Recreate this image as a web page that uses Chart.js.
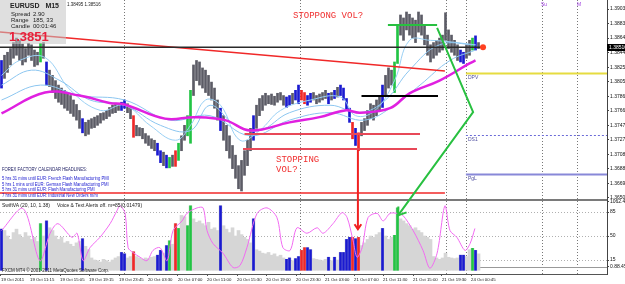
<!DOCTYPE html>
<html>
<head>
<meta charset="utf-8">
<script src="https://cdn.jsdelivr.net/npm/chart.js@4.4.0/dist/chart.umd.min.js"></script>
<style>
  html, body { margin: 0; padding: 0; background: #fff; }
  #wrap { position: relative; width: 625px; height: 284px; overflow: hidden; font-family: "Liberation Sans", Arial, sans-serif; }
  #wrap canvas { position: absolute; left: 0; top: 0; }
  .t { position: absolute; white-space: nowrap; line-height: 1; color: #222; }
  .info { position: absolute; left: 0; top: 0; width: 66px; height: 44px; background: rgba(196,196,196,0.55); }
  .big { font-size: 13px; font-weight: bold; color: #e8203c; }
  .mono { font-family: "Liberation Mono", "DejaVu Sans Mono", monospace; font-size: 9px; color: #f03030; }
  .ff { font-size: 5.5px; transform: scaleX(0.76); transform-origin: 0 0; color: #2020d0; }
  .tiny { font-size: 5px; }
  .piv { font-size: 5px; color: #5050a0; }
  .day { font-size: 5px; color: #a040e0; }
</style>
</head>
<body>
<div id="wrap">
  <canvas id="mt" width="625" height="284"></canvas>

  <div class="info"></div>
  <div class="t" style="left:10px;top:2px;font-size:7px;font-weight:bold;">EURUSD&nbsp;&nbsp;&nbsp;M15</div>
  <div class="t" style="left:11px;top:11px;font-size:6px;">Spread</div>
  <div class="t" style="left:33px;top:11px;font-size:6px;">2.90</div>
  <div class="t" style="left:11px;top:17px;font-size:6px;">Range</div>
  <div class="t" style="left:33px;top:17px;font-size:6px;">185, 33</div>
  <div class="t" style="left:11px;top:23px;font-size:6px;">Candle</div>
  <div class="t" style="left:33px;top:23px;font-size:6px;">00:01:46</div>
  <div class="t big" style="left:9px;top:30px;">1.3851</div>
  <div class="t" style="left:67px;top:3px;font-size:4.5px;">1.38495 1.38516</div>

  <div class="t mono" style="left:293px;top:12px;">STOPPONG VOL?</div>
  <div class="t mono" style="left:276px;top:156px;">STOPPING</div>
  <div class="t mono" style="left:276px;top:166px;">VOL?</div>

  <div class="t ff" style="left:2px;top:167px;color:#1a1a60;">FOREX FACTORY CALENDAR HEADLINES:</div>
  <div class="t ff" style="left:2px;top:176px;">5 hrs 31 mins until EUR: French Flash Manufacturing PMI</div>
  <div class="t ff" style="left:2px;top:182px;">5 hrs 1 mins until EUR: German Flash Manufacturing PMI</div>
  <div class="t ff" style="left:2px;top:187px;">5 hrs 31 mins until EUR: Flash Manufacturing PMI</div>
  <div class="t ff" style="left:2px;top:193px;">7 hrs 31 mins until EUR: Industrial New Orders m/m</div>

  <div class="t tiny" style="left:2px;top:203px;">SwiftVA (20, 10, 1.38)</div>
  <div class="t tiny" style="left:57px;top:203px;">Voice &amp; Text Alerts off.</div>
  <div class="t tiny" style="left:108px;top:203px;">m=85(0.01479)</div>
  <div class="t" style="left:2px;top:269px;font-size:4.5px;">FXCM MT4 &copy; 2001-2011 MetaQuotes Software Corp.</div>

  <div class="t day" style="left:541px;top:2px;">Su</div>
  <div class="t day" style="left:577px;top:2px;">M</div>
  <div class="t piv" style="left:468px;top:75px;">DPV</div>
  <div class="t piv" style="left:468px;top:137px;">DS1</div>
  <div class="t piv" style="left:468px;top:176px;">PgL</div>
</div>

<script>
// ---- values (bar index = one M15 bar) ----
const barColors =
  'bggggggggg' + 'gggGgbgggg' + 'gggggggbgg' + 'gggggggggg' +
  'bbggrggggg' + 'ggbbgbGgrG' + 'ggGGgggggg' + 'gggbgggggg' +
  'ggggbggggg' + 'gggggbbgbb' + 'rrbbgggggb' + 'gbgbbbbrbr' +
  'gggggggbgg' + 'gGGggggggg' + 'gggggggggg' + 'gggbbggGbg';

const highs = [
  1.3834,1.3841,1.3845,1.3850,1.3858,1.3864,1.3861,1.3856,1.3850,1.3857,
  1.3855,1.3848,1.3845,1.3857,1.3858,1.3832,1.3821,1.3814,1.3807,1.3801,
  1.3797,1.3794,1.3791,1.3787,1.3781,1.3775,1.3767,1.3756,1.3751,1.3754,
  1.3756,1.3758,1.3760,1.3763,1.3764,1.3767,1.3771,1.3774,1.3775,1.3775,
  1.3778,1.3781,1.3776,1.3770,1.3760,1.3747,1.3744,1.3743,1.3736,1.3733,
  1.3729,1.3727,1.3723,1.3713,1.3711,1.3707,1.3704,1.3707,1.3713,1.3723,
  1.3733,1.3747,1.3760,1.3794,1.3828,1.3834,1.3832,1.3824,1.3821,1.3814,
  1.3805,1.3797,1.3781,1.3770,1.3760,1.3747,1.3733,1.3720,1.3707,1.3693,
  1.3700,1.3713,1.3727,1.3743,1.3760,1.3774,1.3783,1.3787,1.3790,1.3787,
  1.3789,1.3786,1.3790,1.3791,1.3787,1.3785,1.3787,1.3790,1.3794,1.3801,
  1.3794,1.3791,1.3787,1.3790,1.3791,1.3787,1.3789,1.3791,1.3794,1.3790,
  1.3791,1.3794,1.3798,1.3801,1.3797,1.3783,1.3770,1.3751,1.3743,1.3737,
  1.3751,1.3756,1.3767,1.3776,1.3774,1.3781,1.3787,1.3801,1.3814,1.3824,
  1.3821,1.3832,1.3881,1.3895,1.3891,1.3899,1.3896,1.3891,1.3888,1.3899,
  1.3895,1.3881,1.3868,1.3855,1.3858,1.3861,1.3864,1.3868,1.3898,1.3875,
  1.3868,1.3861,1.3855,1.3848,1.3845,1.3855,1.3861,1.3864,1.3867,1.3858
];
const lows = [
  1.3797,1.3810,1.3818,1.3828,1.3837,1.3841,1.3834,1.3828,1.3832,1.3841,
  1.3834,1.3826,1.3828,1.3832,1.3837,1.3801,1.3799,1.3791,1.3783,1.3778,
  1.3775,1.3770,1.3767,1.3763,1.3759,1.3754,1.3743,1.3737,1.3733,1.3735,
  1.3743,1.3744,1.3747,1.3750,1.3754,1.3756,1.3759,1.3763,1.3764,1.3767,
  1.3767,1.3770,1.3764,1.3756,1.3731,1.3733,1.3733,1.3729,1.3723,1.3720,
  1.3716,1.3713,1.3707,1.3697,1.3693,1.3690,1.3690,1.3692,1.3692,1.3700,
  1.3713,1.3727,1.3733,1.3723,1.3787,1.3807,1.3801,1.3797,1.3791,1.3787,
  1.3781,1.3770,1.3754,1.3740,1.3727,1.3713,1.3703,1.3689,1.3676,1.3662,
  1.3659,1.3680,1.3693,1.3713,1.3727,1.3743,1.3760,1.3767,1.3774,1.3776,
  1.3775,1.3774,1.3778,1.3781,1.3774,1.3771,1.3774,1.3776,1.3781,1.3776,
  1.3781,1.3776,1.3774,1.3778,1.3781,1.3776,1.3778,1.3781,1.3783,1.3776,
  1.3781,1.3783,1.3785,1.3787,1.3781,1.3767,1.3751,1.3729,1.3720,1.3713,
  1.3733,1.3740,1.3747,1.3756,1.3754,1.3760,1.3767,1.3771,1.3787,1.3797,
  1.3801,1.3791,1.3830,1.3868,1.3861,1.3875,1.3868,1.3864,1.3858,1.3872,
  1.3868,1.3855,1.3841,1.3832,1.3837,1.3841,1.3845,1.3848,1.3861,1.3850,
  1.3845,1.3841,1.3834,1.3832,1.3830,1.3837,1.3841,1.3848,1.3848,1.3850
];
const volumes = [
  60,58,50,45,55,60,52,48,55,50,
  45,48,42,68,50,72,62,58,50,45,
  48,40,42,38,35,40,42,46,35,30,
  18,15,14,12,16,14,12,15,18,20,
  26,24,18,20,27,20,18,16,18,17,
  19,20,22,29,25,36,43,38,68,61,
  80,78,65,94,75,70,72,68,65,70,
  60,62,58,94,65,60,55,62,50,58,
  52,48,45,40,75,30,28,25,24,26,
  22,24,20,22,18,16,18,14,17,20,
  29,33,33,30,17,16,15,14,16,19,
  14,19,15,26,26,45,48,48,46,48,
  36,40,45,50,48,52,55,61,50,45,
  48,51,91,75,72,68,65,60,62,58,
  55,50,48,45,20,18,16,18,25,19,
  18,17,18,22,22,20,30,32,29,24
];

// oscillator in the lower pane (bar position, value)
const oscX = [0,7.2,12.8,16.2,18.8,23.5,25.2,27.2,29.5,32.8,36.2,38.5,39.5,41.2,42.2,43.8,46.2,48.5,50.5,52.8,
  55.2,57.2,60.2,61.8,65.2,67.2,68.5,70.5,73.8,77.2,79.5,81.8,85.2,88.5,91.8,93.8,96.2,98.5,101.8,105.2,
  107.2,110.5,113.5,115.2,117.2,118.5,120.2,122.2,125.2,127.2,129.5,131.8,133.8,137.2,140.5,142.8,145.2,147.8,149.5,151.8,
  154.5,156.2,157.8];
const oscY = [58,90,14,54,68,48,54,14,33,48,68,87,94,83,33,26,19,14,29,33,
  14,58,72,83,91,91,58,39,25,4,7,33,83,91,77,33,29,62,54,62,
  54,68,84,77,43,19,33,77,83,72,83,83,80,58,29,3,25,94,58,48,
  29,39,61];

// moving averages
const maSlowX = [0,14.5,26,36,41,54.5,64.5,74.5,83,96,106,114.5,119.5,129.5,136,146,156,158];
const maSlowY = [1.3763,1.3791,1.3787,1.3777,1.3775,1.3756,1.3758,1.3754,1.3740,1.3751,1.3758,1.3767,1.3764,1.3770,1.3790,1.3807,1.3830,1.3834];
const maFastX = [0,6,14.5,23,33,41,49.5,58,63,68,73,79.5,86,93,103,113,118,124.5,131,136,143,149.5,158];
const maFastY = [1.3814,1.3834,1.3838,1.3794,1.3767,1.3774,1.3747,1.3727,1.3747,1.3781,1.3774,1.3727,1.3740,1.3767,1.3781,1.3785,1.3760,1.3767,1.3807,1.3861,1.3861,1.3859,1.3855];
const maMidX = [0,10,19.5,29.5,41,53,63,69.5,78,86,96,109.5,119.5,128,136,146,158];
const maMidY = [1.3801,1.3821,1.3807,1.3781,1.3774,1.3747,1.3740,1.3774,1.3747,1.3740,1.3764,1.3774,1.3764,1.3781,1.3821,1.3855,1.3855];
const maBandX = [0,13,26,41,56,69.5,83,96,109.5,121,131,139.5,149.5,158];
const maBandY = [1.3781,1.3801,1.3787,1.3781,1.3754,1.3760,1.3733,1.3754,1.3764,1.3754,1.3774,1.3801,1.3834,1.3848];

// axes
const timeTickPos = [-0.17,9.5,19.5,29.2,39.2,48.8,58.8,68.5,78.5,88.2,98.2,107.8,117.5,127.2,137.2,146.8,156.5];
const timeLabels = ['19 Oct 2011','19 Oct 11:15','19 Oct 15:05','19 Oct 19:15','19 Oct 23:45','20 Oct 03:30',
  '20 Oct 07:00','20 Oct 11:00','20 Oct 15:30','20 Oct 19:00','20 Oct 23:30','21 Oct 03:00','21 Oct 07:00',
  '21 Oct 11:30','21 Oct 15:00','21 Oct 19:30','24 Oct 00:45'];
const priceTicks = [1.39030,1.38835,1.38640,1.38445,1.38250,1.38055,1.37860,1.37665,1.37470,1.37275,1.37080,1.36885,1.36690,1.36500];
const indTicks = [100, 85, 50, 15, 6];
const indTickLabels = ['1062.46', '85', '50', '15', '0.88.45'];
const indLevels = [85, 50, 15];
const sepBars = [40.8, 99.5, 148.2, 154.8, 180.2, 191.8];

// drawn objects (bar, price) ; lower-pane points use indicator units
const currentBar = 160.5;
const currentPrice = 1.38516;
const trendRed = [[-0.5, 1.38722], [147.8, 1.38199]];
const floorRed = [[-0.5, 1.36563], [147.8, 1.36563]];
const stopLines = [[[81, 1.37354], [139.5, 1.37354]], [[80.5, 1.37153], [138.5, 1.37153]]];
const blackLevel = [[120, 1.37864], [145.5, 1.37864]];
const greenTop = [[128.8, 1.38816], [145.2, 1.38816]];
const greenArrow = { a: [145.2, 1.38776], b: [157.2, 1.37649], tip: [132.2, 80] };
const redArrow = { from: [118.8, 1.37140], tip: [118.8, 60] };
const pivotStart = 154.8;
const pivotLevels = [
  { price: 1.38172, color: '#e6dc40', width: 2, dash: [] },
  { price: 1.37341, color: '#6a6ad8', width: 1, dash: [2, 2] },
  { price: 1.36818, color: '#8888d8', width: 2, dash: [] }
];

const barColorMap = { g: '#5c5c66', b: '#1a1ad0', G: '#22c444', r: '#f02828' };

// ---- helpers ----
function seg(ctx, x1, y1, x2, y2, color, w, dash) {
  ctx.beginPath();
  ctx.setLineDash(dash || []);
  ctx.strokeStyle = color;
  ctx.lineWidth = w;
  ctx.moveTo(x1, y1);
  ctx.lineTo(x2, y2);
  ctx.stroke();
}

function arrowHead(ctx, fx, fy, tx, ty, size, color, w) {
  const ang = Math.atan2(ty - fy, tx - fx);
  ctx.setLineDash([]);
  ctx.strokeStyle = color;
  ctx.lineWidth = w;
  ctx.beginPath();
  ctx.moveTo(tx - size * Math.cos(ang - 0.6), ty - size * Math.sin(ang - 0.6));
  ctx.lineTo(tx, ty);
  ctx.lineTo(tx - size * Math.cos(ang + 0.6), ty - size * Math.sin(ang + 0.6));
  ctx.stroke();
}

const mtOverlay = {
  id: 'mtOverlay',
  beforeDatasetsDraw(chart) {
    const { ctx, chartArea: a } = chart;
    const { x, y, y2 } = chart.scales;
    ctx.save();
    ctx.beginPath();
    ctx.rect(a.left, a.top, a.width, a.height);
    ctx.clip();

    // period separators
    sepBars.forEach(b => {
      const px = Math.round(x.getPixelForValue(b)) + 0.5;
      seg(ctx, px, a.top, px, a.bottom, '#777', 1, [1, 2]);
    });
    // indicator levels
    indLevels.forEach(v => {
      const py = Math.round(y2.getPixelForValue(v)) + 0.5;
      seg(ctx, a.left, py, a.right, py, '#b0b0b0', 1, [1, 2]);
    });
    // pivot lines
    const pxs = x.getPixelForValue(pivotStart);
    pivotLevels.forEach(l => {
      const py = Math.round(y.getPixelForValue(l.price)) + 0.5;
      seg(ctx, pxs, py, a.right, py, l.color, l.width, l.dash);
    });
    // pane separator and copyright strip
    seg(ctx, a.left, y.bottom, a.right, y.bottom, '#7a7a7a', 2);
    seg(ctx, a.left, y2.bottom - 6.5, a.right, y2.bottom - 6.5, '#999', 1);
    ctx.restore();
  },
  afterDatasetsDraw(chart) {
    const { ctx, chartArea: a } = chart;
    const { x, y, y2 } = chart.scales;
    const P = p => [x.getPixelForValue(p[0]), y.getPixelForValue(p[1])];
    const Q = p => [x.getPixelForValue(p[0]), y2.getPixelForValue(p[1])];
    ctx.save();
    ctx.beginPath();
    ctx.rect(a.left, a.top, a.width, a.height);
    ctx.clip();

    let s, e;
    s = P(trendRed[0]); e = P(trendRed[1]);
    seg(ctx, s[0], s[1], e[0], e[1], '#f02828', 1.5);
    s = P(floorRed[0]); e = P(floorRed[1]);
    seg(ctx, s[0], s[1], e[0], e[1], '#f02828', 1.5);

    const cy = y.getPixelForValue(currentPrice);
    seg(ctx, a.left, cy, x.getPixelForValue(currentBar), cy, '#2a2a2a', 1.5);

    stopLines.forEach(l => {
      s = P(l[0]); e = P(l[1]);
      seg(ctx, s[0], s[1], e[0], e[1], '#e84858', 2);
    });
    s = P(blackLevel[0]); e = P(blackLevel[1]);
    seg(ctx, s[0], s[1], e[0], e[1], '#000', 2);
    s = P(greenTop[0]); e = P(greenTop[1]);
    seg(ctx, s[0], s[1], e[0], e[1], '#28c040', 2);

    // green arrow crossing into the lower pane
    const ga = P(greenArrow.a), gb = P(greenArrow.b), gt = Q(greenArrow.tip);
    ctx.setLineDash([]);
    ctx.strokeStyle = '#28c040';
    ctx.lineWidth = 2;
    ctx.beginPath();
    ctx.moveTo(ga[0], ga[1]);
    ctx.lineTo(gb[0], gb[1]);
    ctx.lineTo(gt[0], gt[1]);
    ctx.stroke();
    arrowHead(ctx, gb[0], gb[1], gt[0], gt[1], 9, '#28c040', 2);

    // red arrow
    const rf = P(redArrow.from), rt = Q(redArrow.tip);
    seg(ctx, rf[0], rf[1], rt[0], rt[1], '#f02020', 2);
    arrowHead(ctx, rf[0], rf[1], rt[0], rt[1], 6, '#f02020', 2);

    // current price dot
    ctx.fillStyle = '#ff4020';
    ctx.beginPath();
    ctx.arc(x.getPixelForValue(currentBar), cy, 3, 0, Math.PI * 2);
    ctx.fill();
    ctx.restore();

    // price box on the axis
    ctx.save();
    ctx.fillStyle = '#000';
    ctx.fillRect(a.right, Math.round(cy) - 3, 625 - a.right, 7);
    ctx.fillStyle = '#fff';
    ctx.font = '5px "Liberation Sans", Arial';
    ctx.textBaseline = 'middle';
    ctx.fillText(currentPrice.toFixed(5), a.right + 2, Math.round(cy) + 0.5);
    ctx.restore();
  }
};

// ---- datasets ----
const priceBars = highs.map((h, i) => ({ x: i, y: [lows[i], h] }));
const volAll = volumes.map((v, i) => ({ x: i, y: v }));
const volColored = volumes.map((v, i) => ({ x: i, y: v })).filter((d, i) => barColors[i] !== 'g');
const pts = (xs, ys) => xs.map((v, k) => ({ x: v, y: ys[k] }));

const axisFont = { size: 5, family: '"Liberation Sans", Arial, sans-serif' };
const timeFont = { size: 4.3, family: '"Liberation Sans", Arial, sans-serif' };

new Chart(document.getElementById('mt').getContext('2d'), {
  type: 'bar',
  data: {
    datasets: [
      {
        type: 'bar', label: 'volume', data: volAll, yAxisID: 'y2',
        backgroundColor: '#d6d6d6', barThickness: 3, grouped: false, order: 10
      },
      {
        type: 'bar', label: 'volume signal', data: volColored, yAxisID: 'y2',
        backgroundColor: volColored.map(d => barColorMap[barColors[d.x]]),
        barThickness: 2, grouped: false, order: 9
      },
      {
        type: 'line', label: 'oscillator', data: pts(oscX, oscY), yAxisID: 'y2',
        borderColor: '#f26af2', borderWidth: 1, pointRadius: 0, tension: 0.3, order: 8
      },
      {
        type: 'bar', label: 'EURUSD', data: priceBars, yAxisID: 'y',
        backgroundColor: priceBars.map((d, i) => barColorMap[barColors[i]]),
        barThickness: 2, grouped: false, order: 7
      },
      {
        type: 'line', label: 'ma band', data: pts(maBandX, maBandY), yAxisID: 'y',
        borderColor: '#8cc6f0', borderWidth: 1, pointRadius: 0, tension: 0.4, order: 6
      },
      {
        type: 'line', label: 'ma mid', data: pts(maMidX, maMidY), yAxisID: 'y',
        borderColor: '#8cc6f0', borderWidth: 1, pointRadius: 0, tension: 0.4, order: 6
      },
      {
        type: 'line', label: 'ma fast', data: pts(maFastX, maFastY), yAxisID: 'y',
        borderColor: '#9ad0f4', borderWidth: 1, pointRadius: 0, tension: 0.4, order: 6
      },
      {
        type: 'line', label: 'ma slow', data: pts(maSlowX, maSlowY), yAxisID: 'y',
        borderColor: '#e020e0', borderWidth: 2.5, pointRadius: 0, tension: 0.4, order: 5
      }
    ]
  },
  options: {
    responsive: false,
    maintainAspectRatio: false,
    devicePixelRatio: 1,
    animation: false,
    layout: { padding: 0 },
    plugins: { legend: { display: false }, tooltip: { enabled: false } },
    scales: {
      x: {
        type: 'linear', min: -0.5, max: 201.83, offset: false, bounds: 'data',
        afterBuildTicks: s => { s.ticks = timeTickPos.map(v => ({ value: v })); },
        afterFit: s => { s.height = 10; s.paddingLeft = 0; s.paddingRight = 0; },
        ticks: {
          autoSkip: false, maxRotation: 0, minRotation: 0, align: 'start', padding: 1,
          font: timeFont, color: '#111', callback: (v, i) => timeLabels[i]
        },
        grid: { drawOnChartArea: false, drawTicks: true, tickLength: 2, color: '#555', offset: false },
        border: { display: true, color: '#555' }
      },
      y: {
        type: 'linear', position: 'right', stack: 'pane', stackWeight: 200, weight: 0,
        min: 1.36469, max: 1.39151, bounds: 'data', beginAtZero: false,
        afterBuildTicks: s => { s.ticks = priceTicks.map(v => ({ value: v })); },
        afterFit: s => { s.width = 18; s.paddingTop = 0; s.paddingBottom = 0; },
        ticks: { autoSkip: false, font: axisFont, color: '#111', padding: 1, callback: v => v.toFixed(5) },
        grid: { drawOnChartArea: false, tickLength: 2, color: '#444' },
        border: { color: '#444' }
      },
      y2: {
        type: 'linear', position: 'right', stack: 'pane', stackWeight: 74, weight: 1,
        min: -5.4, max: 102.5, bounds: 'data', beginAtZero: false,
        afterBuildTicks: s => { s.ticks = indTicks.map(v => ({ value: v })); },
        afterFit: s => { s.width = 18; s.paddingTop = 0; s.paddingBottom = 0; },
        ticks: { autoSkip: false, font: axisFont, color: '#111', padding: 1, callback: (v, i) => indTickLabels[i] },
        grid: { drawOnChartArea: false, tickLength: 2, color: '#444' },
        border: { color: '#444' }
      }
    }
  },
  plugins: [mtOverlay]
});
</script>
</body>
</html>
